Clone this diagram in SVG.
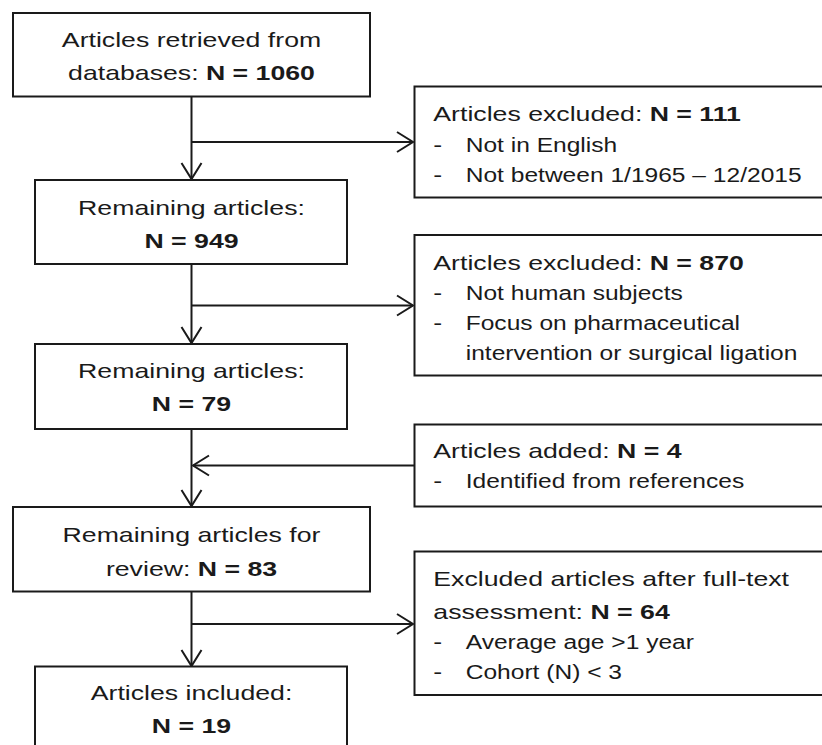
<svg xmlns="http://www.w3.org/2000/svg" width="822" height="745" viewBox="0 0 822 745">
<style>
.box{fill:#fff;stroke:#1a1a1a;stroke-width:2}
.ln{fill:none;stroke:#1a1a1a;stroke-width:2}
text{font-family:"Liberation Sans",Arial,sans-serif;font-size:21px;fill:#1a1a1a}
.c{text-anchor:middle}
.b{font-weight:bold}
</style>
<defs>
<marker id="arr" viewBox="-18 -12 20 24" refX="0" refY="0" markerWidth="20" markerHeight="24" markerUnits="userSpaceOnUse" orient="auto">
<path d="M-16,-10 L0,0 L-16,10" fill="none" stroke="#1a1a1a" stroke-width="2"/>
</marker>
</defs>
<rect width="822" height="745" fill="#fff"/>
<g id="connectors">
<line class="ln" x1="191.5" y1="96" x2="191.5" y2="179" marker-end="url(#arr)"/>
<line class="ln" x1="191.5" y1="142" x2="413" y2="142" marker-end="url(#arr)"/>
<line class="ln" x1="191.5" y1="264" x2="191.5" y2="343" marker-end="url(#arr)"/>
<line class="ln" x1="191.5" y1="305.5" x2="413" y2="305.5" marker-end="url(#arr)"/>
<line class="ln" x1="191.5" y1="429" x2="191.5" y2="506" marker-end="url(#arr)"/>
<line class="ln" x1="414" y1="465.5" x2="193" y2="465.5" marker-end="url(#arr)"/>
<line class="ln" x1="191.5" y1="591.5" x2="191.5" y2="666" marker-end="url(#arr)"/>
<line class="ln" x1="191.5" y1="624" x2="413" y2="624" marker-end="url(#arr)"/>
</g>
<g id="box1">
<rect class="box" x="13" y="13" width="357" height="83.5"/>
<g transform="translate(191.5,0) scale(1.27,1)">
<text class="c" x="0" y="47">Articles retrieved from</text>
<text class="c" x="0" y="80">databases: <tspan class="b">N = 1060</tspan></text>
</g>
</g>
<g id="box2">
<rect class="box" x="35" y="180" width="312" height="84"/>
<g transform="translate(191.5,0) scale(1.27,1)">
<text class="c" x="0" y="215">Remaining articles:</text>
<text class="c b" x="0" y="248">N = 949</text>
</g>
</g>
<g id="box3">
<rect class="box" x="35" y="344" width="312" height="85"/>
<g transform="translate(191.5,0) scale(1.27,1)">
<text class="c" x="0" y="378">Remaining articles:</text>
<text class="c b" x="0" y="411.5">N = 79</text>
</g>
</g>
<g id="box4">
<rect class="box" x="13" y="507" width="357" height="84.5"/>
<g transform="translate(191.5,0) scale(1.27,1)">
<text class="c" x="0" y="542.5">Remaining articles for</text>
<text class="c" x="0" y="576">review: <tspan class="b">N = 83</tspan></text>
</g>
</g>
<g id="box5">
<rect class="box" x="35" y="666.5" width="312" height="100"/>
<g transform="translate(191.5,0) scale(1.27,1)">
<text class="c" x="0" y="700">Articles included:</text>
<text class="c b" x="0" y="733">N = 19</text>
</g>
</g>
<g id="excl1">
<rect class="box" x="414.5" y="86.5" width="420" height="111"/>
<g transform="translate(433.3,0) scale(1.27,1)">
<text x="0" y="121">Articles excluded: <tspan class="b">N = 111</tspan></text>
<text x="0" y="152">-</text>
<text x="0" y="182.5">-</text>
</g>
<g transform="translate(465.7,0) scale(1.17,1)">
<text x="0" y="152">Not in English</text>
<text x="0" y="182.5">Not between 1/1965 – 12/2015</text>
</g>
</g>
<g id="excl2">
<rect class="box" x="414.5" y="235" width="420" height="140.5"/>
<g transform="translate(433.3,0) scale(1.27,1)">
<text x="0" y="270">Articles excluded: <tspan class="b">N = 870</tspan></text>
<text x="0" y="300.5">-</text>
<text x="0" y="330.5">-</text>
</g>
<g transform="translate(465.7,0) scale(1.17,1)">
<text x="0" y="300.5">Not human subjects</text>
<text x="0" y="330.5">Focus on pharmaceutical</text>
<text x="0" y="360.5">intervention or surgical ligation</text>
</g>
</g>
<g id="added">
<rect class="box" x="414.5" y="424.5" width="420" height="82"/>
<g transform="translate(433.3,0) scale(1.27,1)">
<text x="0" y="458.5">Articles added: <tspan class="b">N = 4</tspan></text>
<text x="0" y="488.5">-</text>
</g>
<g transform="translate(465.7,0) scale(1.17,1)">
<text x="0" y="488.5">Identified from references</text>
</g>
</g>
<g id="excl3">
<rect class="box" x="414.5" y="551.5" width="420" height="143.5"/>
<g transform="translate(433.3,0) scale(1.27,1)">
<text x="0" y="586">Excluded articles after full-text</text>
<text x="0" y="619">assessment: <tspan class="b">N = 64</tspan></text>
<text x="0" y="649">-</text>
<text x="0" y="679">-</text>
</g>
<g transform="translate(465.7,0) scale(1.17,1)">
<text x="0" y="649">Average age &gt;1 year</text>
<text x="0" y="679">Cohort (N) &lt; 3</text>
</g>
</g>
</svg>
